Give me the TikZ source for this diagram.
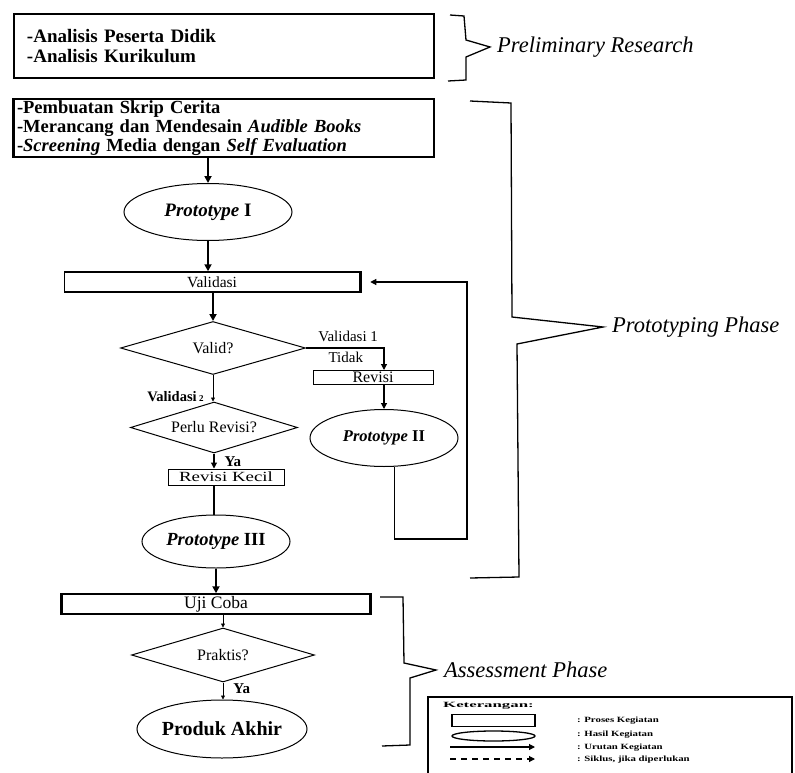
\documentclass[tikz,border=0pt]{standalone}
\usepackage{fontspec}
\usepackage{graphicx}
\setmainfont{Liberation Serif}
\usetikzlibrary{arrows.meta,positioning,shapes.geometric}
\tikzset{
    proc box/.style = {
        draw,
        line width=1pt,
        inner sep=0pt,
        font=\fontsize{15.5}{17}\selectfont,
        },
    result/.style = {
        draw,
        ellipse,
        line width=1pt,
        inner sep=0pt,
        font=\fontsize{18.5}{20}\selectfont\bfseries,
        },
    decision/.style = {
        draw,
        diamond,
        aspect=3.5,
        line width=1pt,
        inner sep=0pt,
        font=\fontsize{16}{18}\selectfont,
        },
    flow/.style = {
        line width=1.1pt,
        -{Triangle[length=6pt,width=6pt]},
        },
    small flow/.style = {
        line width=0.8pt,
        -{Triangle[length=4pt,width=4pt]},
        },
    heavy flow/.style = {
        line width=1.9pt,
        -{Triangle[length=7pt,width=7pt]},
        },
    note/.style = {
        font=\fontsize{15}{17}\selectfont,
        inner sep=0pt,
        },
    phase/.style = {
        font=\fontsize{22.5}{24}\selectfont\itshape,
        inner sep=0pt,
        },
}
\begin{document}
\begin{tikzpicture}[
            x=1pt, y=-1pt,
            PhaseBrace/.style={line width=1.3pt, line join=miter},
            LegendText/.style={font=\fontsize{8}{9}\selectfont\bfseries, inner sep=0pt, anchor=west},
            ]
            \useasboundingbox (0,0) rectangle (795,773);

            % preliminary research
            \node [proc box, line width=2.6pt, minimum width=420pt, minimum height=64pt,
                   inner xsep=13pt, text width=394pt, align=left,
                   font=\fontsize{19}{20}\selectfont\bfseries] (analisis) at (224,46)
                  {-Analisis Peserta Didik\\-Analisis Kurikulum};
            \draw [PhaseBrace] (450,15) -- (464,16) -- (466,40) -- (490,47) coordinate (prelim tip)
                  -- (466,57) -- (466,80) -- (448,81);
            \node [phase, right=7pt of prelim tip] (prelim) {Preliminary Research};

            % prototyping phase
            \node [proc box, line width=1.7pt, minimum width=420pt, minimum height=58pt,
                   inner xsep=3pt, text width=414pt, align=left,
                   font=\fontsize{18.5}{19}\selectfont\bfseries] (desain) at (224,128)
                  {-Pembuatan Skrip Cerita\\-Merancang dan Mendesain \textit{Audible Books}\\-\textit{Screening} Media dengan \textit{Self Evaluation}};
            \draw [line width=2.8pt] (desain.north west) -- (desain.south west);
            \node [result, minimum width=168pt, minimum height=57pt, font=\fontsize{19}{21}\selectfont\bfseries] (p1) at (208,212)
                  {\textit{Prototype} I};
            \node [proc box, line width=1.5pt, minimum width=295pt, minimum height=20pt] (valbox) at (212,282) {Validasi};
            \draw [line width=2.8pt] (valbox.north east) -- (valbox.south east);
            \node [decision, minimum width=185pt, minimum height=53pt] (valid) at (213,348) {Valid?};
            \node [proc box, minimum width=120pt, minimum height=14pt, font=\fontsize{16}{17}\selectfont] (revisi) at (373,377.5) {Revisi};
            \node [result, minimum width=148pt, minimum height=57pt, font=\fontsize{16.5}{18}\selectfont\bfseries] (p2) at (384,438)
                  {\textit{Prototype} II};
            \node [decision, minimum width=167pt, minimum height=51pt] (perlu) at (214,427.5) {Perlu Revisi?};
            \node [proc box, minimum width=116pt, minimum height=16pt, font=\fontsize{14}{15}\selectfont] (kecil) at (226,477)
                  {\scalebox{1.35}[1]{Revisi Kecil}};
            \node [result, minimum width=148pt, minimum height=53pt] (p3) at (216,541.5)
                  {\textit{Prototype} III};
            \draw [PhaseBrace] (470,101) -- (511,103) -- (512,317) -- (603,327) coordinate (proto tip)
                  -- (517,344) -- (519,577) -- (470,578);
            \node [phase, right=9pt of proto tip] (proto) {Prototyping Phase};

            % assessment phase
            \node [proc box, line width=1.5pt, minimum width=307pt, minimum height=20pt,
                   font=\fontsize{17.5}{19}\selectfont] (uji) at (216,604) {Uji Coba};
            \draw [line width=2.8pt] (uji.north east) -- (uji.south east);
            \draw [line width=2.8pt] (uji.north west) -- (uji.south west);
            \node [decision, minimum width=183pt, minimum height=54pt] (praktis) at (223,655) {Praktis?};
            \node [result, minimum width=160pt, minimum height=58pt, font=\fontsize{20}{22}\selectfont\bfseries] (produk) at (222,729)
                  {Produk Akhir};
            \draw [PhaseBrace] (380,597) -- (403,597) -- (404,663) -- (436,670) coordinate (assess tip)
                  -- (410,678) -- (410,745) -- (382,746);
            \node [phase, right=8pt of assess tip] (assess) {Assessment Phase};

            % flow
            \draw [heavy flow] (p1 |- desain.south) -- (p1);
            \draw [heavy flow] (p1) -- (p1 |- valbox.north);
            \draw [heavy flow] (valid |- valbox.south) -- (valid);
            \draw [flow] (valid.east) -| node [note, above=6pt, pos=0.27] (val1) {Validasi 1}
                  node [note, below=4pt, pos=0.255] (tidak) {Tidak} (p2.north |- revisi.north);
            \draw [flow] (p2.north |- revisi.south) -- (p2);
            \draw [small flow] (valid.south) -- node [note, left=9pt, pos=0.8, font=\fontsize{14.5}{16}\selectfont\bfseries] (val2)
                  {Validasi\,{\fontsize{9}{9}\selectfont 2}} (valid.south |- perlu.north);
            \draw [flow] (perlu.south) -- node [note, right=10pt, pos=0.55, font=\fontsize{15}{17}\selectfont\bfseries] (ya1) {Ya}
                  (perlu.south |- kecil.north);
            \draw [line width=1.1pt] (perlu.south |- kecil.south) -- (perlu.south |- p3.north);
            \draw [heavy flow] (p3) -- (p3 |- uji.north);
            \coordinate (loop) at (467,539);
            \draw [flow, shorten >=10pt] (p2.-70) |- (loop) |- (valbox.east);
            \draw [small flow] (praktis |- uji.south) -- (praktis);
            \draw [small flow] (praktis) -- node [note, right=10pt, pos=0.35, font=\fontsize{15}{17}\selectfont\bfseries] (ya2) {Ya}
                  (praktis |- produk.north);

            % keterangan
            \draw [line width=1.3pt] (428,773) |- (792,697) -- (792,773);
            \node [LegendText] (ket) at (443,705.5) {\scalebox{2.1}[1]{Keterangan:}};
            \node [draw, line width=1.8pt, minimum width=83pt, minimum height=12pt, inner sep=0pt] (lg proc) at (493.5,720.5) {};
            \node [draw, ellipse, line width=1.3pt, minimum width=83pt, minimum height=10pt, inner sep=0pt] (lg hasil) at (493.5,736) {};
            \coordinate (lg a1) at (450,747);
            \coordinate (lg a2) at (535,747);
            \coordinate (lg b1) at (450,759);
            \coordinate (lg b2) at (535,759);
            \draw [flow] (lg a1) -- (lg a2);
            \draw [flow, dash pattern=on 6pt off 5pt] (lg b1) -- (lg b2);
            \node [LegendText] (lt proc) at (577,721) {\scalebox{1.35}[1]{: Proses Kegiatan}};
            \node [LegendText] (lt hasil) at (577,735) {\scalebox{1.35}[1]{: Hasil Kegiatan}};
            \node [LegendText] (lt urut) at (577,748) {\scalebox{1.35}[1]{: Urutan Kegiatan}};
            \node [LegendText] (lt siklus) at (577,760) {\scalebox{1.35}[1]{: Siklus, jika diperlukan}};

        \end{tikzpicture}
\end{document}
